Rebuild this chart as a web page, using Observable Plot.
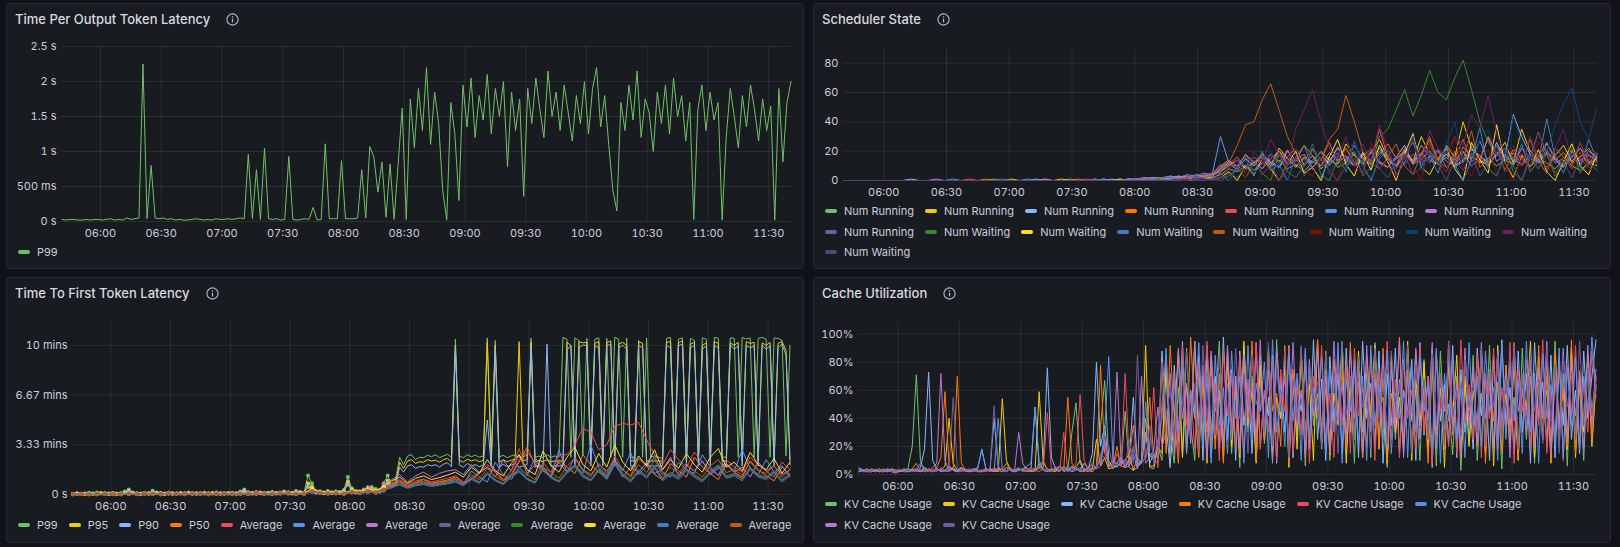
<!DOCTYPE html>
<html>
<head>
<meta charset="utf-8">
<script src="https://cdn.jsdelivr.net/npm/d3@7"></script>
<script src="https://cdn.jsdelivr.net/npm/@observablehq/plot@0.6"></script>
<style>
  html, body { margin: 0; padding: 0; }
  body { width: 1620px; height: 547px; background: #111217; overflow: hidden; position: relative;
         font-family: Inter, "Noto Sans", sans-serif; color: #ccccdc; }
  .panel { position: absolute; background: #181b1f; border: 1px solid #26292f; border-radius: 3px; box-sizing: border-box; }
  .title { position: absolute; display: flex; align-items: center; font-size: 13px; font-weight: 500; line-height: 16px; white-space: nowrap; color: #d8d9e0; }
  .title svg { margin-left: 16px; }
  .chart { position: absolute; }
  .chart svg { display: block; background: transparent; }
  .legend { position: absolute; display: flex; flex-wrap: wrap; font-size: 11px; width: 790px; }
  .legend .item { display: flex; align-items: center; height: 20.5px; margin-right: 11px; white-space: nowrap; }
  .legend .sw { width: 12px; height: 4px; border-radius: 2px; margin-right: 7px; }
  .legend .br { flex-basis: 100%; height: 0; }
</style>
</head>
<body>
<script>
// ---------------- time axis ----------------
const timeTickLabels = ["06:00","06:30","07:00","07:30","08:00","08:30","09:00","09:30","10:00","10:30","11:00","11:30"];
const sampleStart = "05:41";

// ---------------- Time Per Output Token Latency (seconds, 2-minute samples) ----------------
const tpotSeries = ["P99"];
const tpotP99 = [
  0.03,0.02,0.03,0.03,0.02,0.02,0.03,0.02,0.03,0.03,0.02,0.03,0.04,0.02,0.03,0.02,0.05,0.03,0.04,0.05,
  2.25,0.04,0.8,
  0.05,0.04,0.05,0.03,0.04,0.02,0.03,0.02,0.02,0.03,0.04,0.03,0.02,0.03,0.02,0.04,0.03,0.03,0.04,0.03,0.04,0.05,0.04,
  0.96,0.04,0.74,0.03,1.05,
  0.04,0.03,0.04,0.02,0.03,
  0.93,0.03,0.02,0.03,0.04,0.03,
  0.2,0.02,0.03,1.11,0.04,0.04,0.04,0.87,0.04,0.04,0.04,0.05,0.74,0.05,
  1.07,0.92,0.42,0.85,0.06,0.82,0.03,0.82,
  1.62,0.03,1.75,1.05,1.9,1.3,2.2,1.1,1.85,1.4,
  0.45,0.02,1.7,1.25,0.3,1.95,1.35,2.05,1.2,1.8,
  1.45,2.1,1.25,1.9,1.5,2.0,0.78,1.85,1.3,1.75,
  0.36,1.9,1.4,2.05,1.6,1.2,2.15,1.5,1.85,1.3,
  1.95,1.55,1.15,1.8,1.4,2.0,1.25,1.9,2.2,1.35,
  1.8,1.1,0.45,0.15,1.7,1.3,1.95,1.45,2.15,1.2,
  1.75,1.55,1.0,1.85,1.4,1.95,1.25,2.05,1.5,1.8,
  1.15,1.7,0.03,1.6,1.95,1.3,1.85,1.45,1.7,0.02,
  1.2,1.9,1.5,1.05,1.8,1.35,1.95,1.6,1.15,1.75,
  1.3,1.65,0.02,1.9,0.85,1.7,2.0
];
const tpotYTicks = [0, 0.5, 1, 1.5, 2, 2.5];
const tpotYLabels = ["0 s", "500 ms", "1 s", "1.5 s", "2 s", "2.5 s"];

// ---------------- Scheduler State (requests, 4-minute samples) ----------------
const schedulerSeries = ["Num Running","Num Running","Num Running","Num Running","Num Running","Num Running","Num Running","Num Running",
                         "Num Waiting","Num Waiting","Num Waiting","Num Waiting","Num Waiting","Num Waiting","Num Waiting","Num Waiting"];
const numRunning1 = [0,0,0,0,0,0,0,0,0,0,0,0,0,0,0,0,0,0,1,0,0,0,0,0,1,0,0,1,0,0,0,1,0,1,0,1,
  1,2,1,2,3,1,2,3,2,
  4,8,6,10,7,12,9,14,8,11,6,13,10,16,9,12,18,11,15,22,13,10,17,12,19,14,11,16,9,13,18,12,15,10,14,11,18,9,15,12,8,14,10,7,12,16];
const numRunning2 = [0,0,0,0,0,0,0,0,0,0,0,0,0,0,0,0,0,0,0,0,1,0,0,0,0,0,1,0,0,0,1,0,0,1,0,1,
  1,1,2,1,3,2,1,2,4,
  6,10,14,8,12,18,10,22,15,9,16,12,20,14,11,25,17,12,19,28,15,10,21,13,30,18,12,24,16,40,22,14,10,18,26,12,35,20,14,9,17,24,13,19,11,15];
const numRunning3 = [0,0,0,0,0,0,0,0,1,0,0,0,0,0,0,0,0,0,0,0,0,0,0,1,0,0,0,0,0,0,0,0,1,0,1,0,
  1,2,1,1,2,3,2,1,3,
  8,12,7,15,10,18,12,9,20,14,11,17,8,13,22,16,10,14,19,12,9,16,24,11,15,20,13,18,10,14,21,17,12,26,15,45,30,18,12,20,14,9,16,22,13,10];
const numRunning4 = [0,0,0,0,0,0,0,0,0,0,0,0,0,0,0,0,0,1,0,0,0,0,0,0,0,0,0,0,1,0,0,0,0,0,1,1,
  2,1,1,3,2,2,4,3,5,
  10,14,9,18,12,16,11,20,15,13,24,17,10,19,14,22,12,16,11,18,25,15,20,12,17,28,14,19,11,23,16,13,30,18,12,21,15,10,17,26,14,19,12,16,22,13];
const numRunning5 = [0,0,0,0,0,0,0,0,0,0,0,0,0,0,0,1,0,0,0,0,0,0,0,0,0,0,0,0,0,1,0,0,0,0,1,0,
  1,1,2,2,1,3,2,4,3,
  7,11,16,9,13,8,18,12,21,10,15,9,14,26,12,17,11,19,13,35,16,10,22,14,18,12,20,9,15,28,13,17,11,24,14,19,10,16,33,18,12,15,21,11,17,14];
const numRunning6 = [0,0,0,0,0,0,0,0,0,0,0,0,0,1,0,0,0,0,0,0,0,0,1,0,0,0,0,0,0,0,0,1,0,0,1,1,
  2,1,2,3,2,4,3,5,4,
  30,12,8,15,10,18,13,9,16,22,11,14,19,10,17,13,24,15,11,20,14,9,18,26,12,16,21,13,10,19,15,27,12,17,22,14,11,18,13,25,16,10,20,14,18,12];
const numRunning7 = [0,0,0,0,0,0,0,0,0,0,0,1,0,0,0,0,0,0,0,0,0,0,0,0,1,0,0,0,0,0,0,0,0,0,0,1,
  1,2,1,1,3,2,2,3,4,
  9,13,10,17,12,8,15,20,11,14,18,9,16,12,23,14,10,17,21,13,9,15,19,12,24,16,11,18,14,20,10,15,29,13,17,11,22,15,12,19,14,10,17,13,20,16];
const numRunning8 = [0,0,0,0,0,0,0,0,0,0,0,0,0,0,0,0,0,0,0,1,0,0,0,0,0,0,0,0,0,0,1,0,0,0,0,1,
  1,1,2,2,1,2,3,2,4,
  11,8,14,10,16,12,9,18,13,15,10,21,14,11,17,13,19,10,15,22,12,16,11,18,14,20,13,9,17,12,23,15,11,19,14,16,10,18,13,21,12,15,11,17,14,19];
const numWaiting1 = [0,0,0,0,0,0,0,0,0,0,0,0,0,0,0,0,0,0,0,0,0,0,0,0,0,0,0,0,0,0,0,0,0,0,0,0,0,0,1,0,0,1,0,2,1,
  0,3,8,2,12,5,0,18,6,2,10,25,4,0,14,7,20,3,9,30,35,48,62,44,58,75,60,55,70,82,62,40,26,18,22,6,0,15,8,18,3,10,22,5,12,7];
const numWaiting2 = [0,0,0,0,0,0,0,0,0,0,0,0,0,0,0,0,0,0,0,0,0,0,0,0,0,0,0,0,0,0,0,0,0,0,0,0,0,0,0,0,1,0,0,2,1,
  2,6,0,10,4,15,8,0,12,20,5,9,0,16,28,11,3,19,7,24,13,0,18,32,9,4,15,22,8,0,26,14,5,38,12,2,17,9,21,6,0,13,25,10,4,18];
const numWaiting3 = [0,0,0,0,0,0,0,0,0,0,0,0,0,0,0,0,0,0,0,0,0,0,0,0,0,0,0,0,0,0,0,0,0,0,0,0,0,0,0,1,0,0,1,2,1,
  5,0,9,14,3,20,7,11,0,16,24,8,2,13,19,6,27,10,0,15,21,4,12,30,9,17,5,23,11,0,14,36,8,3,18,10,25,6,13,42,16,5,20,9,28,14];
const numWaiting4 = [0,0,0,0,0,0,0,0,0,0,0,0,0,0,0,0,0,0,0,0,0,0,0,0,0,0,0,0,0,0,0,0,0,0,0,0,0,0,0,0,0,1,0,2,3,
  6,12,24,38,40,55,66,48,30,18,10,22,14,28,35,58,40,20,12,8,16,25,10,4,18,30,12,6,20,14,34,9,15,24,7,19,11,28,13,5,22,16,8,26,12,18];
const numWaiting5 = [0,0,0,0,0,0,0,0,0,0,0,0,0,0,0,0,0,0,0,0,0,0,0,0,0,0,0,0,0,0,0,0,0,0,0,0,0,0,0,0,0,1,0,1,0,
  0,4,10,2,8,15,5,0,12,22,7,3,16,9,0,20,11,4,26,8,14,2,18,10,0,24,13,6,30,9,3,17,21,5,12,0,19,8,27,11,4,15,9,20,6,13];
const numWaiting6 = [0,0,0,0,0,0,0,0,0,0,0,0,0,0,0,0,0,0,0,0,0,0,0,0,0,0,0,0,0,0,0,0,0,0,0,0,0,0,0,0,1,0,2,1,0,
  3,0,8,14,5,11,20,6,0,15,9,24,12,4,18,7,27,10,2,16,22,8,13,30,6,19,11,25,40,15,9,28,35,18,12,44,26,14,32,20,38,52,63,40,28,50];
const numWaiting7 = [0,0,0,0,0,0,0,0,0,0,0,0,0,0,0,0,0,0,0,0,0,0,0,0,0,0,0,0,0,0,0,0,0,0,0,0,0,0,0,0,0,0,1,0,1,
  2,8,14,5,20,12,28,18,9,35,48,62,40,22,15,30,10,25,14,38,20,8,16,28,12,34,22,18,30,24,45,36,58,32,18,24,10,30,16,8,22,35,14,26,10,18];
const numWaiting8 = [0,0,0,0,0,0,0,0,0,0,0,0,0,0,0,0,0,0,0,0,0,0,0,0,0,0,0,0,0,0,0,0,0,0,0,0,0,0,0,0,0,1,0,0,1,
  0,5,2,9,14,4,11,0,7,16,3,12,20,6,0,10,15,5,22,8,2,13,18,4,9,26,11,0,14,7,19,3,12,24,6,10,0,17,8,21,5,13,2,15,9,11];
const schedYTicks = [0, 20, 40, 60, 80];
const schedYLabels = ["0", "20", "40", "60", "80"];

// ---------------- Time To First Token Latency (seconds) ----------------
// percentiles every 2 minutes, averages every 4 minutes
const ttftSeries = ["P99","P95","P90","P50","Average","Average","Average","Average","Average","Average","Average","Average"];
const ttftP99 = [3,5,2,4,6,3,8,4,5,4, 6,4,5,12,20,8,5,4,6,5, 15,8,6,4,7,5,4,6,5,8, 6,5,4,7,5,6,8,5,4,6,
  7,5,12,20,9,6,5,8,6,7, 10,6,8,12,9,7,14,10,8,76,
  45,12,10,8,14,9,12,10,18,70, 25,14,12,20,16,30,22,18,45,76, 40,60,150,120,155,160,140,150,148,158,
  152,160,148,155,162,150,625,155,148,160, 152,158,150,155,630,152,620,150,158,148,
  155,160,150,152,158,628,150,155,148,160, 150,155,150,632,625,150,630,620,155,628,
  150,625,630,150,628,150,632,625,150,630, 150,150,620,150,630,150,155,150,145,628,
  632,150,625,630,150,628,620,150,630,625, 150,632,628,150,150,630,628,150,632,625,
  630,150,628,632,625,150,630,628,620,155, 600];
const ttftP95 = [2,4,3,2,5,4,3,6,4,3, 5,3,4,8,15,6,4,3,5,4, 10,6,5,3,5,4,3,5,4,6, 5,4,3,5,4,5,6,4,3,5,
  5,4,9,15,7,5,4,6,5,5, 8,5,6,9,7,5,10,8,6,45,
  30,10,8,6,10,7,9,8,14,50, 18,10,9,15,12,22,16,14,32,55, 30,45,130,105,135,140,125,132,130,140,
  135,138,130,140,145,132,600,138,130,142, 135,140,132,138,615,135,600,130,140,132,
  138,142,615,135,140,612,130,138,132,140, 132,135,135,135,612,600,135,615,610,612,
  135,608,615,135,610,618,135,605,612,600, 135,135,615,608,135,135,135,135,135,612,
  615,135,610,618,135,605,612,135,600,610, 135,615,608,135,135,610,600,612,135,615,
  608,612,135,610,600,612,135,608,615,580, 140];
const ttftP90 = [2,3,2,3,4,3,2,5,3,2, 4,2,3,6,12,5,3,2,4,3, 8,5,4,2,4,3,2,4,3,5, 4,3,2,4,3,4,5,3,2,4,
  4,3,7,12,6,4,3,5,4,4, 6,4,5,8,6,4,8,6,5,30,
  24,8,6,5,8,6,7,6,12,40, 15,8,7,12,10,18,14,12,28,45, 25,38,110,90,115,120,105,112,110,120,
  115,120,110,122,128,112,590,118,110,125, 115,120,112,118,300,115,590,110,122,112,
  118,125,110,115,120,600,110,118,112,605, 115,115,115,115,580,600,115,590,602,598,
  115,600,590,115,598,605,115,590,600,585, 115,115,600,590,115,115,115,115,115,600,
  590,115,598,605,115,590,600,115,585,598, 115,600,590,115,115,602,585,598,115,600,
  590,598,115,600,585,598,115,590,605,560, 120];
const ttftP50 = [1,2,1,2,3,2,1,3,2,4,3,1,5,3,2,3,4,1,3,4,2,3,3,6,3,3,5,5,3,4,15,8,5,6,4,12,
  8,15,10,22,40,55,35,48,60,45,52,58,
  70,45,60,85,110,90,55,75,130,190,120,95,70,140,110,85,160,120,90,65,130,100,75,145,115,80,60,125,95,70,150,110,85,60,120,90,70,135,100,75,55,110,80];
const ttftAvg1 = [2,3,2,3,4,3,2,4,3,5,4,2,6,4,3,4,5,2,4,5,3,4,4,8,4,4,6,7,4,5,18,10,6,8,5,15,
  10,18,12,25,45,60,40,55,62,50,58,65,
  75,50,65,90,120,100,60,80,140,170,130,110,90,160,160,200,266,250,180,200,275,286,280,290,220,160,120,180,140,110,170,130,100,80,140,110,90,150,120,95,70,130,100];
const ttftAvg2 = [1,2,2,1,3,2,2,3,2,4,3,2,5,3,2,3,4,2,3,4,2,3,3,7,3,3,5,6,3,4,14,8,5,7,4,12,
  8,14,10,20,35,48,30,45,50,40,46,52,
  60,40,95,70,50,130,80,60,110,75,150,100,70,180,90,120,85,200,110,75,140,95,170,80,115,150,90,70,130,100,85,160,110,75,125,95,180,105,80,140,90,115,70];
const ttftAvg3 = [1,1,2,1,2,1,2,2,1,3,2,1,4,2,1,2,3,1,2,3,2,2,2,5,2,2,4,4,2,3,20,6,4,5,3,9,
  6,30,8,40,60,80,50,75,90,70,85,95,
  100,80,120,90,110,70,140,95,160,85,120,105,75,130,90,150,100,80,120,95,140,70,110,90,130,85,100,150,75,115,95,135,80,105,125,90,110,70,130,95,115,80,100];
const ttftAvg4 = [1,1,1,2,2,1,1,2,1,3,2,1,3,2,1,2,3,1,2,3,1,2,2,4,2,2,3,4,2,3,10,5,3,4,3,8,
  5,10,7,15,28,38,25,35,40,32,38,42,
  50,35,60,45,80,55,40,70,90,60,45,100,65,50,85,110,70,55,95,60,120,75,50,90,65,105,55,80,60,95,70,50,85,110,65,75,55,100,70,60,85,50,75];
const ttftAvg5 = [1,2,1,1,2,2,1,3,2,3,2,1,4,3,2,2,3,1,2,4,2,3,2,6,3,2,4,5,3,3,12,7,4,6,4,10,
  7,12,9,18,30,42,28,40,45,36,42,48,
  55,40,70,50,90,60,45,80,100,65,50,110,75,55,95,120,80,60,105,70,130,85,60,100,75,115,65,90,70,105,80,60,95,120,75,85,65,110,80,70,95,60,85];
const ttftAvg6 = [2,3,2,2,4,3,2,4,3,5,4,2,7,4,3,3,5,2,3,5,3,4,3,9,4,3,6,7,4,5,25,12,7,9,6,18,
  12,22,15,30,55,70,45,65,75,60,68,78,
  90,70,110,85,140,95,75,125,160,100,80,175,115,90,150,190,120,95,165,110,200,130,95,155,115,180,100,140,105,165,120,90,150,185,110,130,95,170,120,100,145,85,130];
const ttftAvg7 = [1,2,1,2,3,2,1,3,2,4,3,1,5,3,2,3,4,1,3,4,2,3,2,6,3,2,5,5,3,4,12,6,4,5,3,10,
  6,12,8,16,30,40,26,38,42,34,40,45,
  52,38,66,48,85,58,42,75,95,62,48,105,70,52,90,115,75,58,100,66,125,80,55,95,70,110,62,85,66,100,75,56,90,115,70,80,62,105,75,66,90,56,80];
const ttftAvg8 = [2,2,1,3,3,2,2,3,2,4,3,2,5,3,2,3,4,2,3,4,2,3,3,7,3,3,5,6,3,4,14,8,5,6,4,12,
  8,15,10,20,38,50,32,46,52,42,48,55,
  65,48,80,60,105,72,55,95,185,80,60,130,88,65,115,145,95,72,125,85,155,100,70,120,88,140,78,110,85,125,95,70,115,140,88,100,78,130,95,85,115,70,100];
const ttftYTicks = [0, 200, 400, 600];
const ttftYLabels = ["0 s", "3.33 mins", "6.67 mins", "10 mins"];

// ---------------- Cache Utilization (percent, 2-minute samples) ----------------
const cacheSeries = ["KV Cache Usage","KV Cache Usage","KV Cache Usage","KV Cache Usage","KV Cache Usage","KV Cache Usage","KV Cache Usage","KV Cache Usage"];
const kvCache1 = [3,2,4,2,3,2,2,3,2,1,3,2,5,20,71,10,2,3,2,4,3,2,5,3,2,4,3,2,3,2,
  2,3,4,2,3,2,5,3,2,3,4,2,3,2,8,3,2,4,3,2,6,3,30,51,8,3,4,2,5,35,
  67,10,4,8,6,45,5,3,12,8,40,5,4,20,10,85,30,8,62,14,90,35,10,75,25,88,12,50,95,20,
  80,15,60,5,92,30,70,10,85,22,55,8,96,40,75,12,65,28,90,6,78,35,58,18,88,10,70,42,95,15,
  62,8,85,30,72,12,94,45,55,5,80,25,68,15,90,38,60,10,82,20,75,6,88,32,50,14,70,3,65,22,
  85,10,58,28,92,18,66,4,78,35,55,12,90,25,70,8,84,40,60,15,95,20,72,6,88,30,62,10,80,45,70];
const kvCache2 = [2,3,2,2,3,4,2,3,2,2,3,2,2,4,3,2,5,3,2,4,3,6,40,8,3,5,2,3,4,2,
  3,2,4,3,2,54,10,3,2,4,3,5,2,3,59,8,4,3,2,6,3,4,2,5,10,3,2,4,25,6,
  12,4,5,6,8,10,15,3,5,10,92,6,6,20,15,75,8,40,88,12,65,30,95,18,70,8,82,25,60,10,
  85,20,70,12,95,35,60,8,78,25,90,15,55,40,82,5,72,18,88,30,64,10,96,22,75,14,58,35,90,8,
  70,25,88,12,60,40,92,18,75,8,85,30,55,20,95,10,68,35,80,15,90,28,62,5,78,42,85,12,70,20,
  60,35,88,15,75,6,92,30,58,20,82,10,70,45,95,12,65,25,85,8,78,38,60,18,90,12,72,30,86,20,64];
const kvCache3 = [4,3,2,3,2,3,2,4,3,2,2,3,4,3,2,5,18,73,10,4,2,3,6,3,2,4,3,2,3,5,
  18,4,3,40,5,3,2,4,3,5,2,3,4,48,5,8,76,12,4,3,5,2,6,4,3,8,4,15,80,20,
  35,6,10,8,12,5,10,55,6,8,30,8,15,12,88,35,5,78,22,95,15,60,40,85,10,92,28,70,18,98,
  25,75,10,88,35,65,15,94,20,58,42,85,8,70,30,92,12,62,45,80,18,96,25,68,10,84,38,72,15,90,
  30,78,12,95,40,65,20,88,8,72,35,90,15,60,45,82,10,94,28,70,5,86,38,64,22,92,12,75,30,58,
  18,90,42,70,10,84,25,96,35,62,15,88,30,72,8,94,40,66,20,85,12,78,35,92,25,60,15,88,40,70,96];
const kvCache4 = [2,3,2,4,3,2,3,2,4,3,2,3,2,4,8,3,2,4,3,5,12,59,6,4,70,8,3,2,4,3,
  3,4,2,5,3,4,8,3,2,4,3,2,5,3,4,10,3,2,4,6,3,55,8,4,3,2,5,4,6,78,
  15,8,6,20,6,5,12,35,8,10,25,55,10,8,80,15,92,40,8,75,20,98,45,12,68,30,85,18,72,8,
  90,30,62,15,80,40,95,10,68,25,85,45,58,20,92,8,75,35,88,12,70,50,96,22,62,15,82,40,74,18,
  94,28,66,12,85,45,72,20,90,10,58,38,98,24,75,15,88,42,62,8,82,30,70,18,95,35,60,12,84,45,
  72,20,90,8,65,38,86,15,78,30,94,12,60,42,80,18,92,25,70,10,88,35,62,20,96,15,74,40,82,25,68];
const kvCache5 = [3,2,2,3,2,3,4,2,3,2,3,4,2,3,2,3,2,4,3,2,5,3,2,4,3,2,3,4,2,3,
  2,3,2,4,3,2,3,5,2,3,4,2,5,3,2,4,44,3,5,2,30,3,2,8,57,10,4,3,6,12,
  20,8,5,15,6,72,10,5,8,8,12,18,62,5,50,85,25,70,12,92,35,60,18,80,40,95,22,65,10,88,
  42,72,20,85,12,68,35,94,18,60,30,82,10,75,45,90,15,66,28,88,8,70,40,92,22,58,12,84,35,78,
  15,90,42,62,20,86,10,74,35,95,25,68,12,82,40,60,18,92,30,70,8,88,45,58,20,80,15,96,38,64,
  25,85,12,72,40,90,18,62,30,94,8,75,45,82,20,68,35,96,15,60,28,84,10,78,42,92,20,66,30,88,55];
const kvCache6 = [5,3,2,4,3,2,3,4,2,3,2,4,3,2,3,8,4,3,2,3,4,2,3,5,2,3,4,2,3,4,
  18,4,3,2,40,3,5,4,2,3,4,6,8,48,10,4,3,2,5,3,4,6,2,3,5,4,3,2,5,10,
  30,84,12,5,10,10,6,20,8,8,52,15,10,25,40,90,12,68,30,82,15,58,45,94,20,70,8,85,35,62,
  15,88,40,70,8,92,25,65,45,80,12,96,30,58,20,86,38,72,10,90,25,62,45,84,15,76,30,94,8,68,
  45,82,20,70,10,92,35,64,25,88,15,58,40,95,12,78,30,85,45,66,18,90,8,72,38,84,25,62,12,94,
  35,70,20,88,45,62,10,92,25,80,38,68,15,95,30,72,8,86,40,64,20,90,12,76,35,84,18,70,45,98,60];
const kvCache7 = [2,3,4,2,3,2,3,2,4,3,2,3,2,3,4,2,3,2,5,8,72,10,3,4,2,5,3,2,4,3,
  2,4,3,2,5,3,2,4,3,30,8,3,2,4,5,3,2,4,3,6,2,3,5,4,2,3,5,8,4,6,
  25,5,8,73,10,5,6,15,4,70,8,12,18,48,20,30,72,15,90,40,65,22,95,35,78,12,88,45,60,20,
  92,35,70,18,85,45,62,25,96,30,75,10,88,50,68,22,94,35,60,15,82,42,90,28,72,18,95,38,65,25,
  88,40,75,15,92,30,68,45,85,20,78,35,96,12,70,42,90,25,64,38,94,18,72,45,82,28,66,15,90,35,
  78,22,94,40,66,18,88,35,72,12,92,45,62,28,85,20,76,40,95,15,68,32,90,25,80,42,70,18,92,35,75];
const kvCache8 = [3,2,3,2,4,3,2,3,2,3,4,2,3,2,3,4,2,3,2,4,3,2,4,55,5,3,2,4,3,2,
  3,2,4,49,6,3,2,4,3,5,2,3,4,2,5,3,4,2,6,3,5,2,4,6,3,5,2,8,5,15,
  12,20,5,8,15,6,25,8,85,20,10,35,8,15,80,42,60,25,75,50,88,30,65,18,92,40,70,28,85,35,
  65,25,90,40,72,15,85,50,62,30,94,20,75,45,88,12,68,38,92,25,78,48,66,20,86,35,74,15,95,42,
  70,25,84,48,62,18,90,40,75,22,88,50,65,30,92,15,78,45,68,25,86,35,72,20,94,42,60,28,82,48,
  66,30,90,20,75,48,85,25,68,40,92,18,72,35,86,45,64,22,90,38,78,15,84,48,70,25,95,35,76,42,68];
const cacheYTicks = [0, 20, 40, 60, 80, 100];
const cacheYLabels = ["0%", "20%", "40%", "60%", "80%", "100%"];

// ---------------- rendering ----------------
// Grafana classic palette, in series order
const palette = ["#73BF69","#F2CC0C","#8AB8FF","#FF780A","#F2495C","#5794F2","#B877D9","#705DA0",
                 "#37872D","#FADE2A","#447EBC","#C15C17","#890F02","#0A437C","#6D1F62","#584477"];

const DAY = Date.UTC(2024, 0, 1);
const clock = s => { const [h, m] = s.split(":").map(Number); return DAY + (h * 60 + m) * 60000; };
const timeTicks = timeTickLabels.map(s => new Date(clock(s)));
const viewStart = new Date(clock("05:40") + 45000);
const viewEnd = new Date(clock("11:41") + 15000);
const t0 = clock(sampleStart);
const fmtTime = d3.utcFormat("%H:%M");

function rows(values, stepMin) {
  return values.map((v, i) => ({ t: new Date(t0 + i * stepMin * 60000), v }));
}

function panel(x, y, w, h, title) {
  const p = document.createElement("div");
  p.className = "panel";
  Object.assign(p.style, { left: x + "px", top: y + "px", width: w + "px", height: h + "px" });
  document.body.appendChild(p);
  const t = document.createElement("div");
  t.className = "title";
  Object.assign(t.style, { left: (x + 9) + "px", top: (y + 8) + "px" });
  t.innerHTML = `<span>${title}</span><svg width="13" height="13" viewBox="0 0 13 13"><circle cx="6.5" cy="6.5" r="5.6" fill="none" stroke="#b9bac4" stroke-width="1.1"/><circle cx="6.5" cy="4" r="0.75" fill="#b9bac4"/><line x1="6.5" y1="5.8" x2="6.5" y2="9.4" stroke="#b9bac4" stroke-width="1.2"/></svg>`;
  document.body.appendChild(t);
}

function chart(cfg) {
  const marks = [
    Plot.gridY(cfg.yTicks, { stroke: "#ccccdc", strokeOpacity: 0.1 }),
    Plot.gridX(timeTicks, { stroke: "#ccccdc", strokeOpacity: 0.1 }),
    Plot.axisY(cfg.yTicks, { tickSize: 0, tickPadding: 5, label: null,
      tickFormat: d => cfg.yLabels[cfg.yTicks.indexOf(d)] }),
    Plot.axisX(timeTicks, { tickSize: 0, tickPadding: 8, label: null, tickFormat: fmtTime })
  ];
  cfg.series.forEach((vals, k) => {
    const step = cfg.steps ? cfg.steps[k] : cfg.step;
    const data = rows(vals, step);
    marks.push(Plot.line(data, { x: "t", y: "v", stroke: palette[k], strokeWidth: 1 }));
    if (cfg.dotsUntil) {
      marks.push(Plot.dot(data.filter(d => d.t < cfg.dotsUntil), { x: "t", y: "v", fill: palette[k], r: 2 }));
    }
  });
  const svg = Plot.plot({
    width: cfg.width, height: cfg.height,
    marginLeft: cfg.ml, marginRight: cfg.mr, marginTop: cfg.mt, marginBottom: cfg.mb,
    x: { type: "utc", domain: [viewStart, viewEnd] },
    y: { domain: cfg.yDomain },
    style: { background: "transparent", color: "#ccccdc", fontFamily: "Inter, sans-serif", fontSize: "11px" },
    marks
  });
  const holder = document.createElement("div");
  holder.className = "chart";
  Object.assign(holder.style, { left: cfg.x + "px", top: cfg.y + "px" });
  holder.appendChild(svg);
  document.body.appendChild(holder);
}

function legend(x, y, names, breaks) {
  const el = document.createElement("div");
  el.className = "legend";
  Object.assign(el.style, { left: x + "px", top: y + "px" });
  names.forEach((n, k) => {
    if (breaks.includes(k)) { const b = document.createElement("div"); b.className = "br"; el.appendChild(b); }
    const it = document.createElement("div");
    it.className = "item";
    it.innerHTML = `<span class="sw" style="background:${palette[k]}"></span><span>${n}</span>`;
    el.appendChild(it);
  });
  document.body.appendChild(el);
}

// Time Per Output Token Latency
panel(6, 3, 798, 266, "Time Per Output Token Latency");
chart({ x: 6, y: 30, width: 798, height: 215, ml: 55, mr: 13, mt: 16, mb: 24, step: 2,
        yDomain: [0, 2.5], yTicks: tpotYTicks, yLabels: tpotYLabels, series: [tpotP99] });
legend(18, 242, tpotSeries, []);

// Scheduler State
panel(813, 3, 798, 266, "Scheduler State");
chart({ x: 813, y: 30, width: 798, height: 174, ml: 30, mr: 14, mt: 18, mb: 24, step: 4,
        yDomain: [0, 90], yTicks: schedYTicks, yLabels: schedYLabels,
        series: [numRunning1, numRunning2, numRunning3, numRunning4, numRunning5, numRunning6, numRunning7, numRunning8,
                 numWaiting1, numWaiting2, numWaiting3, numWaiting4, numWaiting5, numWaiting6, numWaiting7, numWaiting8] });
legend(825, 201, schedulerSeries, [7, 15]);

// Time To First Token Latency
panel(6, 277, 798, 266, "Time To First Token Latency");
chart({ x: 6, y: 300, width: 798, height: 218, ml: 66, mr: 14, mt: 20, mb: 24,
        steps: [2, 2, 2, 4, 4, 4, 4, 4, 4, 4, 4, 4],
        yDomain: [0, 700], yTicks: ttftYTicks, yLabels: ttftYLabels,
        dotsUntil: new Date(clock("08:20")),
        series: [ttftP99, ttftP95, ttftP90, ttftP50, ttftAvg1, ttftAvg2, ttftAvg3, ttftAvg4, ttftAvg5, ttftAvg6, ttftAvg7, ttftAvg8] });
legend(18, 515, ttftSeries, []);

// Cache Utilization
panel(813, 277, 798, 266, "Cache Utilization");
chart({ x: 813, y: 300, width: 798, height: 198, ml: 45, mr: 15, mt: 21, mb: 24, step: 2,
        yDomain: [0, 109], yTicks: cacheYTicks, yLabels: cacheYLabels,
        series: [kvCache1, kvCache2, kvCache3, kvCache4, kvCache5, kvCache6, kvCache7, kvCache8] });
legend(825, 494, cacheSeries, [6]);
</script>
</body>
</html>
